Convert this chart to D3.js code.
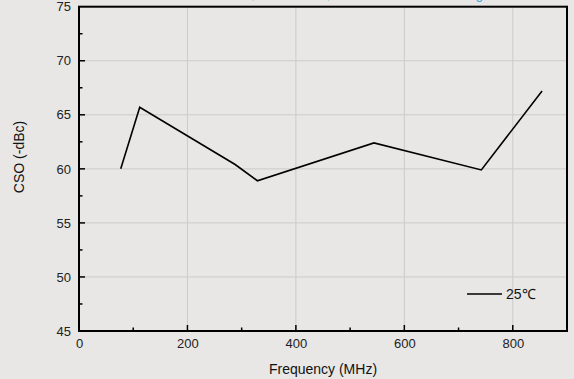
<!DOCTYPE html>
<html><head><meta charset="utf-8">
<script src="https://cdn.jsdelivr.net/npm/d3@7"></script>
<style>
html,body{margin:0;padding:0;background:#e8e7e5;}
svg{display:block;font-family:"Liberation Sans",Arial,sans-serif;}
</style></head>
<body>
<script>
const freqs = [77, 112, 288, 329, 544, 742, 854];
const cso25 = [60.0, 65.7, 60.4, 58.9, 62.4, 59.9, 67.2];
const xTicks = [0, 200, 400, 600, 800];
const yTicks = [45, 50, 55, 60, 65, 70, 75];
const xMinor = [100, 300, 500, 700];
const yMinor = [47.5, 52.5, 57.5, 62.5, 67.5, 72.5];
const legendLabel = "25\u2103";
const titleParts = [["CSO Test,", 255], ["Channels,", 330], ["Flat Loading", 483]];

const W = 574, H = 379;
const L = 79, R = 567, T = 6.7, B = 331;
const svg = d3.select("body").append("svg").attr("width", W).attr("height", H);
svg.append("rect").attr("width", W).attr("height", H).attr("fill", "#e8e7e5");

const x = d3.scaleLinear().domain([0, 900]).range([L, R]);
const y = d3.scaleLinear().domain([45, 75]).range([B, T]);

// title (mostly cut off at the top edge)
titleParts.forEach(([t, xe]) => {
  svg.append("text").attr("x", xe).attr("y", -1.2).attr("text-anchor", "end")
    .attr("font-size", 13).attr("fill", "#1aa3e0").text(t);
});

// grid
svg.append("g").selectAll("line").data(xTicks.filter(d => d > 0)).join("line")
  .attr("x1", d => x(d)).attr("x2", d => x(d)).attr("y1", T).attr("y2", B)
  .attr("stroke", "#cbcbcb").attr("stroke-width", 1);
svg.append("g").selectAll("line").data(yTicks.filter(d => d > 45 && d < 75)).join("line")
  .attr("y1", d => y(d)).attr("y2", d => y(d)).attr("x1", L).attr("x2", R)
  .attr("stroke", "#cbcbcb").attr("stroke-width", 1);

// axes
const xAxis = d3.axisBottom(x).tickValues(xTicks).tickSize(0).tickPadding(8);
const gx = svg.append("g").attr("transform", `translate(0,${B})`).call(xAxis);
gx.select(".domain").remove();
gx.selectAll("text").attr("font-size", 13).attr("fill", "#222").attr("font-family", "Liberation Sans, Arial, sans-serif");

const yAxis = d3.axisLeft(y).tickValues(yTicks).tickSize(0).tickPadding(8);
const gy = svg.append("g").attr("transform", `translate(${L},0)`).call(yAxis);
gy.select(".domain").remove();
gy.selectAll("text").attr("font-size", 13).attr("fill", "#222").attr("font-family", "Liberation Sans, Arial, sans-serif");

// inward ticks
const tk = svg.append("g").attr("stroke", "#000").attr("stroke-width", 1.5);
tk.selectAll(".xmaj").data(xTicks.filter(d => d > 0)).join("line")
  .attr("x1", d => x(d)).attr("x2", d => x(d)).attr("y1", B).attr("y2", B - 6);
tk.selectAll(".xmin").data(xMinor).join("line").attr("class", "xmin")
  .attr("x1", d => x(d)).attr("x2", d => x(d)).attr("y1", B).attr("y2", B - 3.5);
tk.selectAll(".ymaj").data(yTicks.filter(d => d > 45 && d < 75)).join("line").attr("class", "ymaj")
  .attr("y1", d => y(d)).attr("y2", d => y(d)).attr("x1", L).attr("x2", L + 6);
tk.selectAll(".ymin").data(yMinor).join("line").attr("class", "ymin")
  .attr("y1", d => y(d)).attr("y2", d => y(d)).attr("x1", L).attr("x2", L + 3.5);

// frame
svg.append("rect").attr("x", L).attr("y", T).attr("width", R - L).attr("height", B - T)
  .attr("fill", "none").attr("stroke", "#000").attr("stroke-width", 2);

// axis titles
svg.append("text").attr("x", (L + R) / 2).attr("y", 374).attr("text-anchor", "middle")
  .attr("font-size", 14).attr("fill", "#111").text("Frequency (MHz)");
svg.append("text").attr("transform", "translate(24,157) rotate(-90)").attr("text-anchor", "middle")
  .attr("font-size", 14).attr("fill", "#111").text("CSO (-dBc)");

// data line
const line = d3.line().x((d, i) => x(freqs[i])).y(d => y(d));
svg.append("path").datum(cso25).attr("d", line).attr("fill", "none")
  .attr("stroke", "#000").attr("stroke-width", 1.6).attr("stroke-linejoin", "miter");

// legend
svg.append("line").attr("x1", 467).attr("x2", 502).attr("y1", 294).attr("y2", 294)
  .attr("stroke", "#000").attr("stroke-width", 1.6);
svg.append("text").attr("x", 506).attr("y", 299).attr("font-size", 14).attr("fill", "#111").text(legendLabel);
</script>
</body></html>
